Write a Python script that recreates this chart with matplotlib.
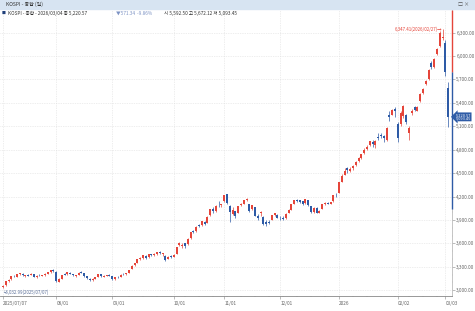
import matplotlib
matplotlib.use("Agg")
import matplotlib.pyplot as plt
import numpy as np
import pandas as pd

plt.rcParams['font.family'] = ['Noto Sans CJK KR', 'DejaVu Sans']

# KRX holidays inside the window
holidays = ["2025-08-15", "2025-10-03", "2025-10-06", "2025-10-07", "2025-10-08",
            "2025-10-09", "2025-12-25", "2025-12-31", "2026-01-01", "2026-02-16",
            "2026-02-17", "2026-02-18", "2026-03-02"]

# daily OHLC, KOSPI 2025/07/07 .. 2026/03/04
opens = [
    3040, 3064, 3120, 3140, 3180, 3170, 3205, 3210, 3185, 3195, 3195, 3210, 3172, 3195, 3188, 3192, 3212, 3232, 3258,
    3235, 3110, 3150, 3200, 3205, 3225, 3205, 3185, 3200, 3230, 3215, 3180, 3150, 3125, 3150, 3175, 3205, 3175, 3185, 3200,
    3180, 3140, 3175, 3170, 3210, 3210, 3225, 3275, 3320, 3350, 3400, 3410, 3440, 3420, 3460, 3450, 3470, 3490, 3465, 3440, 3400, 3440,
    3430, 3470, 3580, 3560, 3600, 3590, 3670, 3760, 3760, 3830, 3830, 3870, 3860, 3960, 4040, 4020, 4090, 4090,
    4140, 4230, 4080, 3980, 4010, 3990, 4090, 4110, 4160, 4100, 4040, 4060, 3950, 3990, 3940, 3870, 3870, 3900, 3965, 3960,
    3930, 3930, 3920, 3990, 4030, 4110, 4160, 4150, 4140, 4120, 4150, 4080, 4000, 4050, 3990, 4040, 4110, 4120, 4110, 4140, 4225,
    4250, 4390, 4480, 4560, 4530, 4560, 4600, 4650, 4690, 4760, 4810, 4860, 4900, 4860, 4960, 4990, 4970, 4930, 5240, 5250, 5320,
    5130, 5130, 5230, 5240, 5010, 5270, 5350, 5300, 5425, 5530, 5640, 5700, 5910, 5860, 6030, 6130, 6230,
    6170, 5592.50]
highs = [
    3068, 3118, 3140, 3186, 3190, 3210, 3220, 3215, 3200, 3205, 3216, 3212, 3190, 3210, 3200, 3215, 3235, 3262, 3268,
    3240, 3152, 3200, 3215, 3230, 3232, 3210, 3195, 3228, 3240, 3218, 3185, 3160, 3155, 3172, 3212, 3210, 3192, 3200, 3205,
    3185, 3175, 3180, 3202, 3215, 3225, 3262, 3317, 3350, 3398, 3420, 3450, 3450, 3465, 3470, 3475, 3490, 3500, 3475, 3445, 3435, 3445,
    3460, 3555, 3617, 3600, 3610, 3665, 3750, 3775, 3820, 3850, 3885, 3890, 3945, 4045, 4060, 4090, 4146, 4110,
    4226, 4235, 4090, 4060, 4010, 4080, 4120, 4160, 4180, 4110, 4095, 4065, 3975, 4010, 3945, 3900, 3905, 3965, 3995, 3970,
    3950, 3945, 3985, 4040, 4105, 4160, 4170, 4160, 4145, 4170, 4160, 4085, 4065, 4060, 4030, 4110, 4125, 4130, 4135, 4225, 4240,
    4390, 4490, 4560, 4580, 4575, 4600, 4650, 4710, 4750, 4820, 4860, 4915, 4930, 4925, 5010, 5020, 4990, 5090, 5290, 5320, 5350,
    5150, 5290, 5375, 5260, 5100, 5320, 5365, 5365, 5525, 5595, 5690, 5830, 5930, 5975, 6100, 6320, 6347.41,
    6200, 5672.12]
lows = [
    3032.99, 3060, 3110, 3135, 3165, 3168, 3195, 3185, 3175, 3180, 3190, 3165, 3160, 3185, 3180, 3188, 3205, 3225, 3235,
    3110, 3100, 3145, 3190, 3200, 3205, 3185, 3170, 3195, 3220, 3170, 3148, 3120, 3118, 3145, 3172, 3175, 3170, 3180, 3180,
    3135, 3135, 3155, 3165, 3195, 3200, 3220, 3270, 3310, 3345, 3385, 3405, 3405, 3415, 3440, 3440, 3455, 3465, 3440, 3380, 3395, 3415,
    3425, 3465, 3570, 3540, 3545, 3585, 3660, 3730, 3750, 3810, 3825, 3830, 3855, 3950, 3990, 4000, 4070, 4060,
    4130, 4110, 3870, 3960, 3925, 3985, 4080, 4105, 4145, 4000, 4030, 3945, 3900, 3950, 3840, 3820, 3845, 3895, 3955, 3920,
    3905, 3895, 3915, 3985, 4025, 4105, 4125, 4120, 4095, 4110, 4075, 3990, 3990, 3985, 3985, 4035, 4095, 4100, 4100, 4135, 4200,
    4240, 4380, 4470, 4500, 4510, 4545, 4590, 4640, 4680, 4750, 4790, 4850, 4840, 4820, 4930, 4950, 4900, 4915, 5170, 5240, 5220,
    4900, 5100, 5200, 5130, 4920, 5250, 5290, 5290, 5410, 5515, 5630, 5690, 5830, 5850, 6010, 6120, 6200,
    5750, 5093.45]
closes = [
    3059, 3115, 3134, 3183, 3176, 3202, 3215, 3192, 3192, 3188, 3211, 3169, 3184, 3190, 3196, 3210, 3231, 3254, 3245,
    3119, 3147, 3198, 3199, 3227, 3210, 3189, 3190, 3224, 3225, 3177, 3151, 3130, 3150, 3168, 3209, 3179, 3187, 3196, 3186,
    3142, 3172, 3164, 3200, 3205, 3219, 3260, 3314, 3344, 3395, 3407, 3449, 3413, 3461, 3445, 3468, 3486, 3472, 3471, 3386, 3431, 3424,
    3455, 3549, 3610, 3584, 3561, 3657, 3748, 3748, 3814, 3823, 3883, 3845, 3941, 4042, 4010, 4081, 4086, 4107,
    4222, 4121, 4004, 4026, 3953, 4073, 4106, 4150, 4170, 4011, 4089, 3953, 3929, 4004, 3853, 3846, 3857, 3960, 3986, 3926,
    3920, 3914, 3977, 4028, 4100, 4154, 4143, 4135, 4110, 4167, 4090, 3999, 4056, 3994, 4020, 4105, 4117, 4108, 4129, 4220, 4214,
    4380, 4460, 4525, 4540, 4555, 4590, 4640, 4700, 4740, 4800, 4840, 4905, 4870, 4910, 4950, 4975, 4950, 5080, 5220, 5310, 5290,
    4950, 5270, 5360, 5150, 5080, 5300, 5305, 5350, 5515, 5575, 5680, 5820, 5855, 5960, 6090, 6300, 6244,
    5791.91, 5220.57]

tick_dates = ["2025-07-07", "2025-08-01", "2025-09-01", "2025-10-01", "2025-11-03",
              "2025-12-01", "2026-01-02", "2026-02-02", "2026-03-03"]
tick_labels = ["2025/07/07", "08/01", "09/01", "10/01", "11/01", "12/01", "2026", "02/02", "03/03"]

dates = pd.bdate_range("2025-07-07", "2026-03-04")
dates = dates[~dates.isin(pd.to_datetime(holidays))]

o = np.array(opens, float)
h = np.array(highs, float)
l = np.array(lows, float)
c = np.array(closes, float)
x = np.arange(len(dates))

RED = "#e5453a"
BLUE = "#2e5ba6"
cols = np.where(c >= o, RED, BLUE)

fig = plt.figure(figsize=(4.75, 3.11), dpi=100)

# window title bar
fig.patches.append(plt.Rectangle((0, 0.972), 1, 0.028, transform=fig.transFigure,
                                 color="#d7e4f2", zorder=0))
fig.text(0.012, 0.986, "KOSPI - 종합 (일)", fontsize=3.6, color="#333333", va="center")
fig.text(0.965, 0.986, "□ ×", fontsize=3.6, color="#555555", va="center")

# legend line
fig.text(0.004, 0.958, "■", fontsize=2.8, color="#1f3f7a", va="center")
fig.text(0.016, 0.958, "KOSPI - 종합 - 2026/03/04 종 5,220.57", fontsize=3.4,
         color="#333333", va="center")
fig.text(0.245, 0.958, "▼571.34  -9.86%", fontsize=3.4, color="#7d93c4", va="center")
fig.text(0.345, 0.958, "시 5,592.50 고 5,672.12 저 5,093.45", fontsize=3.4,
         color="#333333", va="center")

ax = fig.add_axes([0.0, 0.048, 0.952, 0.92])
ax.set_xlim(-1.1, len(x) + 0.4)
ax.set_ylim(2925, 6590)

ax.vlines(x, l, h, colors=cols, linewidth=0.5, zorder=2)
body = np.where(np.abs(c - o) < 4, 4, c - o)
ax.bar(x, body, bottom=o, width=0.72, color=cols, linewidth=0, zorder=3)

yt = np.arange(3000, 6301, 300)
ax.set_yticks(yt)
ax.set_yticklabels([f"{v:,.2f}" for v in yt])
ax.yaxis.tick_right()
ax.set_yticks(np.arange(3000, 6500, 100), minor=True)
ax.tick_params(axis="y", which="major", labelsize=3.4, labelcolor="#666666",
               length=2, width=0.4, color="#888888", pad=1)
ax.tick_params(axis="y", which="minor", length=1, width=0.3, color="#999999")

tpos = dates.get_indexer(pd.to_datetime(tick_dates))
ax.set_xticks(tpos)
ax.set_xticklabels(tick_labels, ha="left")
ax.tick_params(axis="x", which="major", labelsize=3.4, labelcolor="#666666",
               length=2, width=0.4, color="#888888", pad=1.5)
ax.set_xticks(x[::5], minor=True)
ax.tick_params(axis="x", which="minor", length=1, width=0.3, color="#999999")

ax.grid(True, which="major", color="#dddddd", linestyle=(0, (1, 1.5)), linewidth=0.5)

for s in ["top", "left"]:
    ax.spines[s].set_visible(False)
ax.spines["bottom"].set_color("#888888")
ax.spines["bottom"].set_linewidth(0.6)
ax.spines["right"].set_color("#bbbbbb")
ax.spines["right"].set_linewidth(0.6)

# coloured price-range band on the right axis
xr = ax.get_xlim()[1]
ax.vlines(xr, 5792, 6590, colors=RED, linewidth=1.0, clip_on=False, zorder=5)
ax.vlines(xr, 4040, 5792, colors=BLUE, linewidth=1.0, clip_on=False, zorder=5)

# max / min markers
imax = int(np.argmax(h))
imin = int(np.argmin(l))
ax.annotate(f"{h[imax]:,.2f}({dates[imax]:%Y/%m/%d})→", xy=(imax, h[imax]),
            xytext=(imax - 0.3, h[imax]), fontsize=3.2, color=RED, ha="right", va="center")
ax.annotate(f"└{l[imin]:,.2f}({dates[imin]:%Y/%m/%d})", xy=(imin, l[imin]),
            xytext=(imin - 0.6, l[imin] - 30), fontsize=3.2, color="#5a6f99",
            ha="left", va="top")

# last price tag
ax.annotate(f"{c[-1]:,.2f}\n{l[-1]:,.2f}", xy=(xr, c[-1]), xycoords="data",
            xytext=(xr + 1.2, c[-1]), fontsize=2.8, color="white", ha="left", va="center",
            annotation_clip=False, linespacing=0.9,
            bbox=dict(boxstyle="larrow,pad=0.15", fc=BLUE, ec=BLUE, lw=0))

fig.savefig("out.png", dpi=100)
